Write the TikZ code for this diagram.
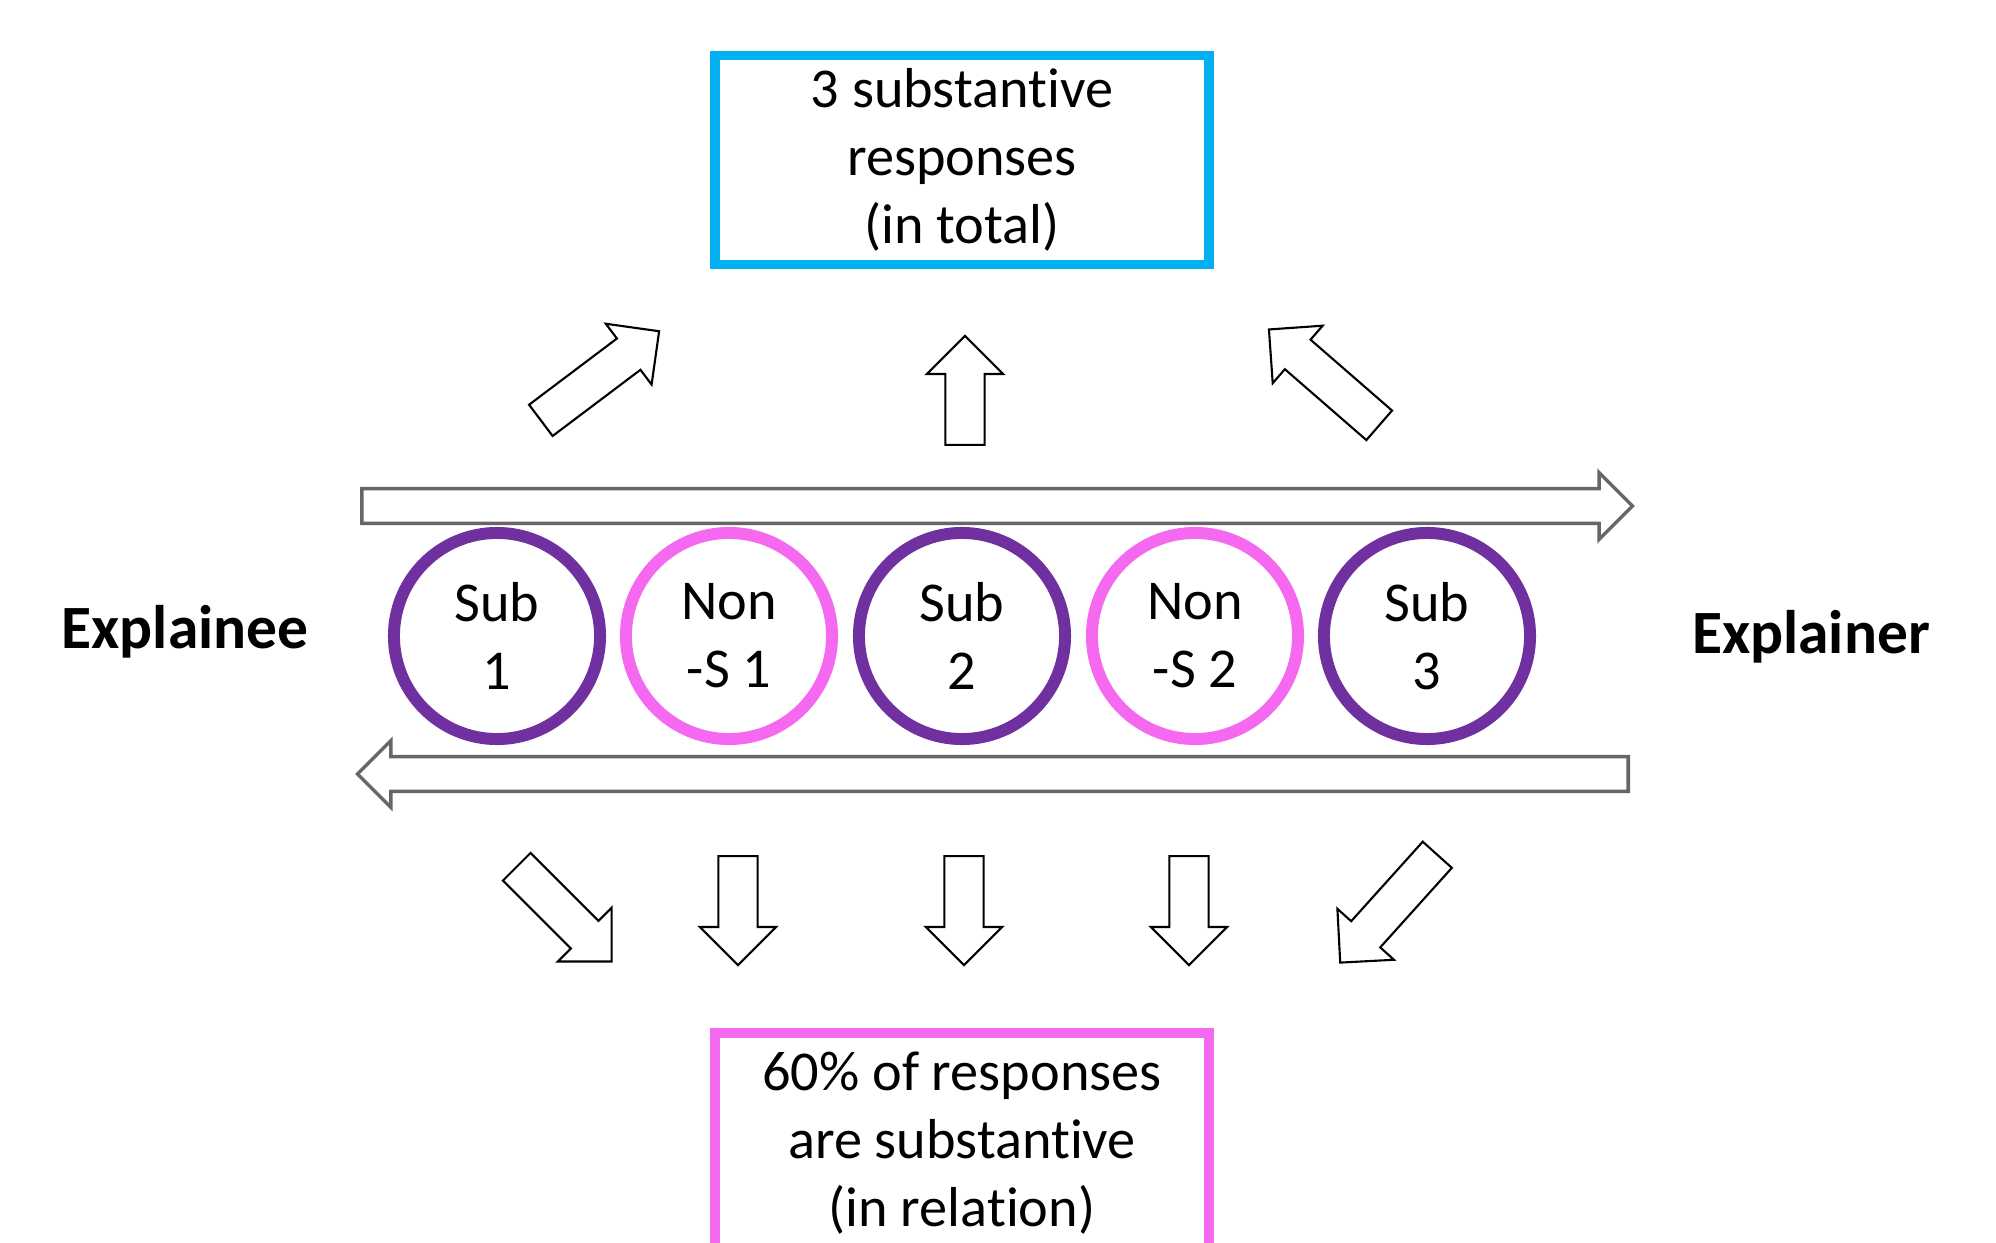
\documentclass[tikz,border=0pt]{standalone}
\usepackage{fontspec}
\setmainfont[Ligatures=NoCommon]{Carlito}
\usetikzlibrary{positioning,shapes.arrows}
\definecolor{subpurple}{RGB}{112,48,160}
\definecolor{nonpink}{RGB}{245,105,240}
\definecolor{totalblue}{RGB}{0,176,240}

\begin{document}
\begin{tikzpicture}[x=0.01cm,y=-0.01cm,
                       sub node/.style={circle,draw=subpurple,line width=3.4pt,
                                        inner sep=0pt,minimum size=2.06cm,align=center,
                                        font=\fontsize{16}{19.3}\selectfont},
                       non node/.style={sub node,draw=nonpink},
                       result box/.style={draw,line width=2.8pt,minimum width=4.93cm,
                                          align=center,font=\fontsize{16}{19.3}\selectfont},
                       side label/.style={font=\fontsize{17.5}{21}\selectfont\bfseries},
                       flow arrow/.style={single arrow,draw,line width=0.6pt,inner xsep=0pt,
                                          inner ysep=0.185cm,single arrow head extend=0.185cm,
                                          minimum height=#1,anchor=tail},
                       turn arrow/.style={single arrow,draw=black!60,line width=1pt,inner xsep=0pt,
                                          inner ysep=0.155cm,single arrow head extend=0.16cm,
                                          minimum height=12.7cm,anchor=tail}
                           ]
   \useasboundingbox (0,0) rectangle (1996,1243);
   % boxes
   \node[result box,draw=totalblue,minimum height=2.09cm] (total) at (962,160)
        {3 substantive\\responses\\(in total)};
   \node[result box,draw=nonpink,minimum height=2.2cm] (relation) at (962,1143)
        {60\% of responses\\are substantive\\(in relation)};
   % speakers
   \node[side label] (explainee) at (185,632) {Explainee};
   \node[side label] (explainer) at (1811,637) {Explainer};
   % turns
   \node[sub node] (sub1) at (497,636) {Sub\\1};
   \node[non node] (non1) at (729,636) {Non\\-S 1};
   \node[sub node] (sub2) at (962,636) {Sub\\2};
   \node[non node] (non2) at (1195,636) {Non\\-S 2};
   \node[sub node] (sub3) at (1427,636) {Sub\\3};
   % long arrows
   \node[turn arrow] (forth) at (360,506) {};
   \node[turn arrow,rotate=180] (back) at (1630,774) {};
   % arrows to the boxes
   \node[flow arrow=1.48cm,rotate=37] (up1) at (540,421) {};
   \node[flow arrow=1.09cm,rotate=90] (up2) at (965,446) {};
   \node[flow arrow=1.46cm,rotate=139] (up3) at (1380,426) {};
   \node[flow arrow=1.34cm,rotate=-45] (dn1) at (516,866) {};
   \node[flow arrow=1.09cm,rotate=-90] (dn2) at (738,855) {};
   \node[flow arrow=1.09cm,rotate=-90] (dn3) at (964,855) {};
   \node[flow arrow=1.09cm,rotate=-90] (dn4) at (1189,855) {};
   \node[flow arrow=1.45cm,rotate=-132] (dn5) at (1438,854) {};
\end{tikzpicture}
\end{document}
